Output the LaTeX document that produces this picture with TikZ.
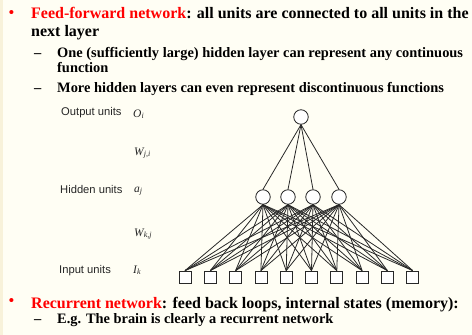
\documentclass[tikz,border=0pt]{standalone}
\usepackage{fontspec}
\setmainfont{Liberation Serif}
\setsansfont{Liberation Sans}
\usepackage{xcolor}
\definecolor{SlideRed}{RGB}{255,0,0}
\definecolor{SlideBg}{RGB}{255,254,244}
\definecolor{SlideStrip}{RGB}{248,242,218}
\definecolor{WireGray}{RGB}{40,40,40}
\usepackage{tikz}
\usetikzlibrary{positioning}

\tikzset{
  hunit/.style={circle, draw=WireGray, fill=white, line width=0.8pt, minimum size=14.5pt, inner sep=0pt},
  iunit/.style={rectangle, draw=WireGray, fill=white, line width=0.8pt, minimum size=12pt, inner sep=0pt},
  wire/.style={WireGray, line width=0.8pt},
  bigline/.style={anchor=base west, inner sep=0pt, font=\bfseries\fontsize{16}{18}\selectfont},
  subline/.style={anchor=base west, inner sep=0pt, font=\bfseries\fontsize{14.4}{15}\selectfont},
  redbullet/.style={inner sep=0pt, text=SlideRed, font=\bfseries\fontsize{15}{16}\selectfont},
  layername/.style={anchor=base west, inner sep=0pt, text=black!85, font=\sffamily\fontsize{11.2}{13}\selectfont},
  layersym/.style={anchor=base west, inner sep=0pt, text=black!85, font=\itshape\fontsize{11.5}{13}\selectfont}
}

\begin{document}
\begin{tikzpicture}[x=1pt, y=-1pt]
  % Fondo de la diapositiva
  \fill[SlideBg] (0,0) rectangle (472,335);
  \fill[SlideStrip] (0,0) rectangle (3,335);
  \useasboundingbox (0,0) rectangle (472,335);

  % Primer punto
  \node[redbullet] (b1) at (11.5,14) {•};
  \node[bigline] (t1) at (31,18) {\textcolor{SlideRed}{Feed-forward network}: all units are connected to all units in the};
  \node[bigline] (t1b) at (31,36) {next layer};
  \node[subline] (d1) at (34,57) {–};
  \node[subline] (s1) at (57,57) {One (sufficiently large) hidden layer can represent any continuous};
  \node[subline] (s1b) at (57,72) {function};
  \node[subline] (d2) at (34,92) {–};
  \node[subline] (s2) at (57,92) {More hidden layers can even represent discontinuous functions};

  % Etiquetas de las capas
  \node[layername] (lout) at (61,115) {Output units};
  \node[layername] (lhid) at (60,193) {Hidden units};
  \node[layername] (lin) at (59,273) {Input units};
  \node[layersym] (sout) at (133,117) {O\textsubscript{i}};
  \node[layersym] (swji) at (134,155) {W\textsubscript{j,i}};
  \node[layersym] (shid) at (134,192) {a\textsubscript{j}};
  \node[layersym] (swkj) at (134,236) {W\textsubscript{k,j}};
  \node[layersym] (sin) at (133,273) {I\textsubscript{k}};

  % Red: salida, ocultas y entradas
  \node[hunit] (o) at (301,117) {};
  \foreach \j/\x in {1/263, 2/288, 3/313, 4/339}
    \node[hunit] (h\j) at (\x,197) {};
  \foreach \k in {1,...,10}
    \node[iunit] (i\k) at ({185+25.3*(\k-1)},277) {};

  % Conexiones
  \foreach \j in {1,...,4} {
    \draw[wire] (o.south) -- (h\j.north);
    \foreach \k in {1,...,10}
      \draw[wire] (h\j.south) -- (i\k.north);
  }

  % Segundo punto
  \node[redbullet] (b2) at (11.5,302) {•};
  \node[bigline] (t2) at (31,308) {\textcolor{SlideRed}{Recurrent network}: feed back loops, internal states (memory):};
  \node[subline] (d3) at (34,323) {–};
  \node[subline] (s3) at (57,323) {E.g. The brain is clearly a recurrent network};
\end{tikzpicture}
\end{document}
